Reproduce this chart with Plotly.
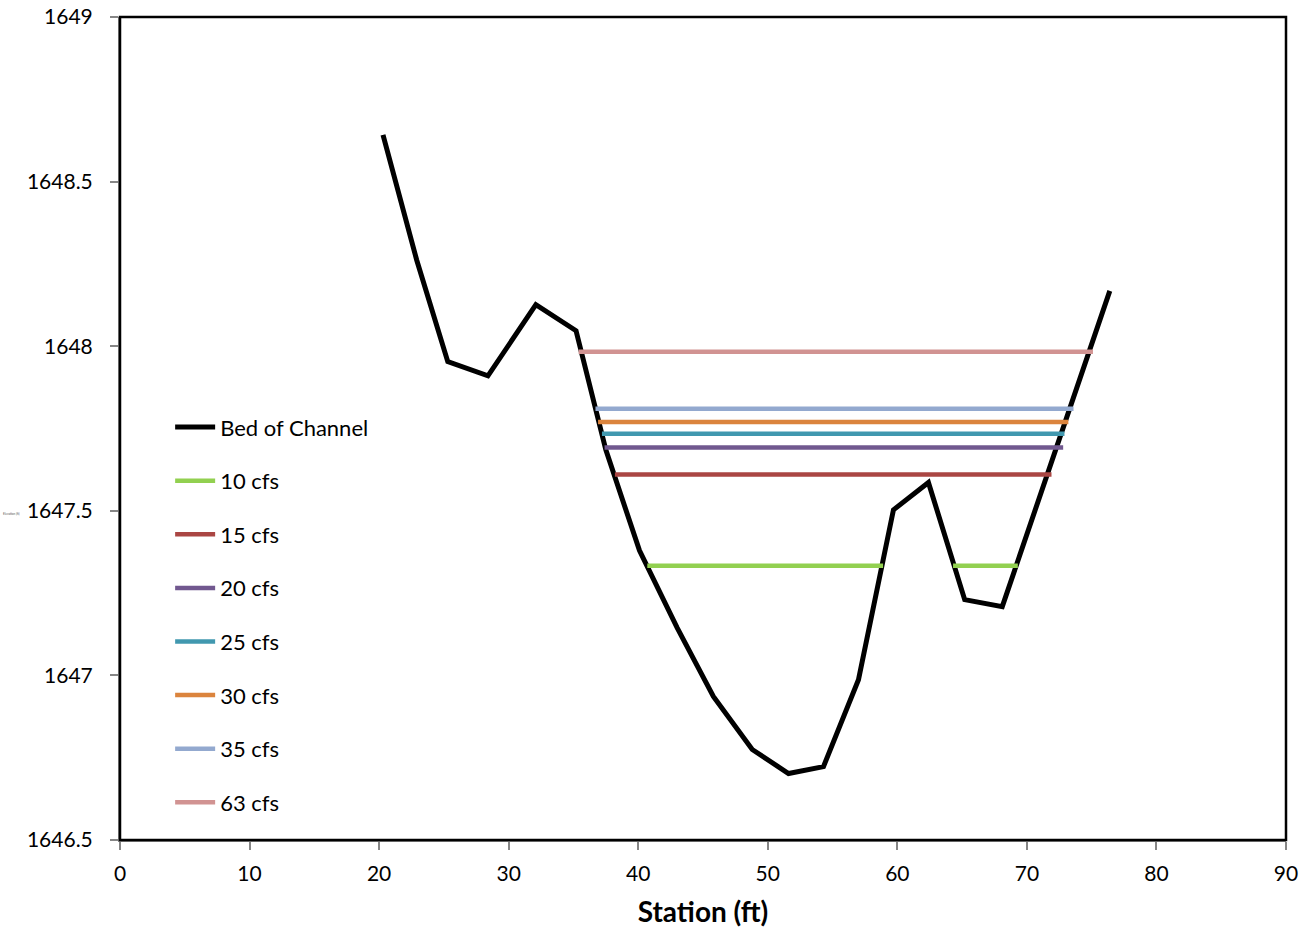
import plotly.graph_objects as go

# Bed of channel survey (station ft, elevation ft)
bed_station = [20.3, 22.9, 25.3, 28.4, 32.1, 35.2, 37.5, 40.1, 43.0, 45.8, 48.8,
               51.6, 54.3, 57.0, 59.7, 62.4, 65.2, 68.1, 76.4]
bed_elev = [1648.642, 1648.262, 1647.953, 1647.910, 1648.126, 1648.047, 1647.685,
            1647.379, 1647.145, 1646.936, 1646.775, 1646.702, 1646.723, 1646.987,
            1647.503, 1647.586, 1647.230, 1647.209, 1648.168]

# Water surface lines (start/end stations and elevation)
flows = ["10 cfs", "15 cfs", "20 cfs", "25 cfs", "30 cfs", "35 cfs", "63 cfs"]
ws_elev = [1647.333, 1647.610, 1647.692, 1647.734, 1647.770, 1647.810, 1647.983]
ws_stations = [
    [40.7, 58.9, None, 64.3, 69.3],
    [38.2, 71.9],
    [37.4, 72.8],
    [37.2, 72.9],
    [36.9, 73.2],
    [36.7, 73.6],
    [35.4, 75.1],
]
colors = ["#92D050", "#AA4643", "#71588F", "#4198AF", "#DB843D", "#93A9CF", "#D19392"]

FONT = "Lato, Open Sans, sans-serif"

fig = go.Figure()
fig.add_trace(go.Scatter(x=bed_station, y=bed_elev, mode="lines", name="Bed of Channel",
                         line=dict(color="black", width=5), legendgroup="bed"))
for name, elev, st, c in zip(flows, ws_elev, ws_stations, colors):
    ys = [None if s is None else elev for s in st]
    fig.add_trace(go.Scatter(x=st, y=ys, mode="lines", name=name,
                             line=dict(color=c, width=4.5), legendgroup=name,
                             connectgaps=False))

fig.update_layout(
    width=1302, height=932,
    margin=dict(l=120, r=16, t=17, b=92),
    paper_bgcolor="white", plot_bgcolor="white",
    font=dict(family=FONT, size=20, color="black"),
    showlegend=True,
    legend=dict(x=0.043, y=0.527, xanchor="left", yanchor="top",
                bgcolor="rgba(0,0,0,0)", font=dict(size=22, family=FONT),
                tracegroupgap=22, itemwidth=40),
    xaxis=dict(range=[0, 90], dtick=10, showgrid=False, zeroline=False,
               showline=True, linecolor="#868686", linewidth=2,
               ticks="outside", tickcolor="#868686", ticklen=8, tickwidth=2,
               ticklabelstandoff=6, automargin=False, ticklabeloverflow="allow",
               tickfont=dict(size=21),
               title=dict(text="<b>Station (ft)</b>", font=dict(size=28), standoff=18)),
    yaxis=dict(range=[1646.5, 1649], dtick=0.5, showgrid=False, zeroline=False,
               showline=True, linecolor="#868686", linewidth=2,
               ticks="outside", tickcolor="#868686", ticklen=8, tickwidth=2,
               ticklabelstandoff=13, automargin=False, tickformat=".1~f",
               ticklabeloverflow="allow",
               tickfont=dict(size=21)),
    shapes=[dict(type="rect", xref="paper", yref="paper", x0=0, x1=1, y0=0, y1=1,
                 line=dict(color="black", width=2.5), fillcolor="rgba(0,0,0,0)")],
    annotations=[dict(text="Elevation (ft)", xref="paper", yref="paper",
                      x=-0.0845, y=0.397, xanchor="right", showarrow=False,
                      borderpad=0, font=dict(size=3, color="#555555"))],
)

fig.write_html(
    "out.html",
    config={"displayModeBar": False},
    post_script="document.body.style.margin='0';document.body.style.overflow='hidden';",
)
